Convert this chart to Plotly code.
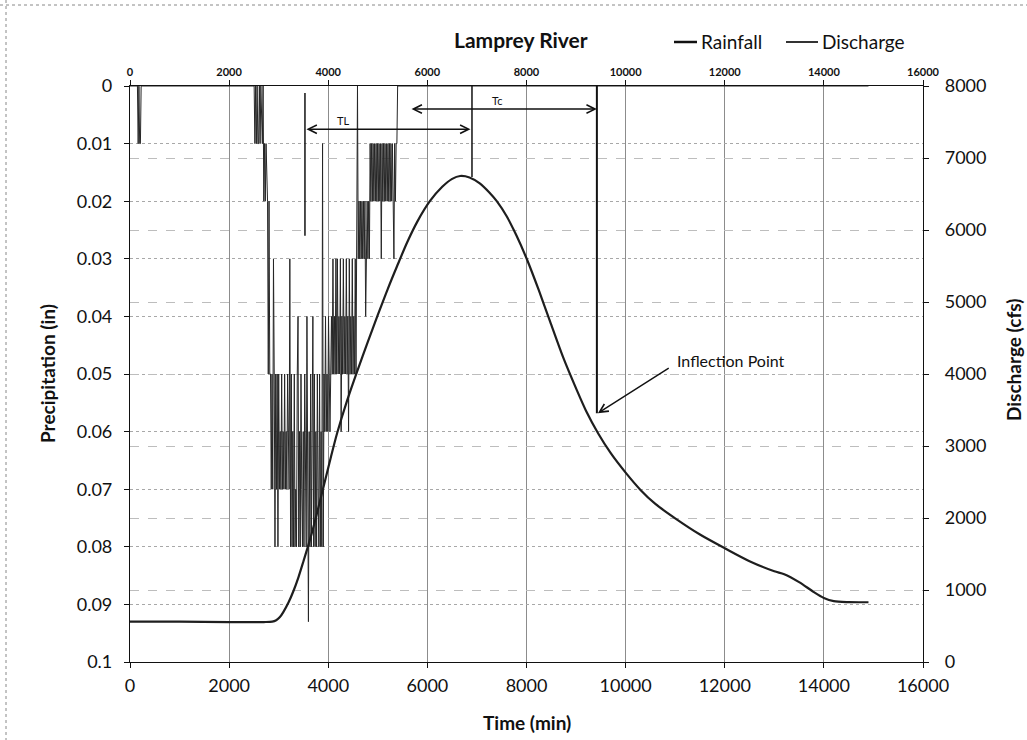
import plotly.graph_objects as go

# ---------------- data ----------------
# Discharge hydrograph (time in min, discharge in cfs)
discharge_time = [0, 1000, 2000, 2700, 2870, 2950, 3020, 3090, 3200, 3300, 3400, 3500, 3640, 3770,
                  3900, 4040, 4180, 4380, 4580, 4800, 5000, 5200, 5390, 5600, 5800, 6050,
                  6300, 6500, 6660, 6850, 7050, 7250, 7400, 7600, 7800, 8010, 8250, 8475,
                  8740, 9000, 9200, 9450, 9700, 10000, 10300, 10600, 11000, 11500, 12000, 12500,
                  13000, 13200, 13500, 13800, 14000, 14200, 14500, 14900]
discharge_cfs = [560, 560, 555, 555, 560, 580, 620, 690, 830, 990, 1180, 1400, 1720, 2060,
                 2420, 2810, 3180, 3630, 4030, 4450, 4820, 5180, 5500, 5840, 6120, 6400,
                 6600, 6710, 6750, 6730, 6650, 6520, 6400, 6190, 5920, 5590, 5160, 4730,
                 4230, 3800, 3490, 3170, 2900, 2630, 2390, 2195, 1995, 1770, 1580, 1400,
                 1260, 1220, 1110, 970, 890, 845, 832, 830]

# Rainfall (inches) - isolated early readings
rain_pre_time = [0, 150, 165, 180, 195, 210, 225, 2490]
rain_pre_val = [0, 0, 0.01, 0, 0.01, 0.01, 0, 0]
# main storm: readings every 15 min starting at 2505 min
RAIN_T0 = 2505
RAIN_DT = 15
rain_storm_val = [
    0, .01, 0, .01, 0, .01, .01, 0, .01, 0, .01, .01, 0,
    .02, .01, .02, .01, .02, .02,
    .05, .02, .05, .05, .07, .05, .07,
    .03, .05, .08, .05, .07, .05, .08, .05, .07,
    .06, .07, .05, .07, .06, .07, .05, .07, .06, .07, .05, .06, .07,
    .03, .08, .05, .08, .06, .08, .05, .08, .07, .08, .05,
    .04, .08, .06, .08, .05, .07, .08, .06, .08, .05, .07, .08, .04, .08,
    .093, .06, .08, .05, .08, .06, .04, .08, .05, .08, .06, .08, .05, .07, .08, .05, .08, .06, .08,
    .01, .08, .05, .06, .04, .06, .05, .06, .04, .05, .06, .05, .04, .05, .03, .05, .04, .05, .03,
    .05, .03, .05, .04, .05, .03, .06, .04, .05, .03, .05, .04, .05, .03, .05, .04, .06, .03, .05,
    .04, .05, .03, .05, .04, .05, .03, .05,
    .02, 0, .03, .02, .03, .02, .03, .02, .03, .02, .03, .02, .04, .03, .02, .03, .02, .03,
    .01, .02, .01, .02, .01, .02, .01, .02, .01, .02, .01, .02, .01, .02, .01, .03, .01, .02,
    .01, .02, .01, .02, .01, .02, .01, .02, .01, .02, .01, .02, .01, .02, .03, .01, .02,
    .01, .01, 0, 0,
]
rain_post_time = [5430, 14900]
rain_post_val = [0, 0]

x_ticks = [0, 2000, 4000, 6000, 8000, 10000, 12000, 14000, 16000]
precip_ticks = [0, 0.01, 0.02, 0.03, 0.04, 0.05, 0.06, 0.07, 0.08, 0.09, 0.1]
precip_labels = ["0", "0.01", "0.02", "0.03", "0.04", "0.05", "0.06", "0.07", "0.08", "0.09", "0.1"]
cfs_ticks = [0, 1000, 2000, 3000, 4000, 5000, 6000, 7000, 8000]

# annotation markers (time, precip-axis value)
TL_start, TL_end, TL_level = 3530, 6870, 0.0075
TC_start, TC_end, TC_level = 5650, 9420, 0.0040
inflection_t, inflection_p = 9420, 0.0568

rain_time = rain_pre_time + [RAIN_T0 + i * RAIN_DT for i in range(len(rain_storm_val))] + rain_post_time
rain_val = rain_pre_val + rain_storm_val + rain_post_val

# ---------------- geometry ----------------
W, H = 1027, 740
L, R, T, B = 130, 104, 86, 78
PW, PH = W - L - R, H - T - B


def px(x):
    return (x - L) / PW


def py(y):
    return (H - B - y) / PH


FONT = "Lato"
BLACK = "#111111"

fig = go.Figure()

# rainfall hyetograph (hanging from the top of the reversed precipitation axis)
fig.add_trace(go.Scatter(x=rain_time, y=rain_val, xaxis="x", yaxis="y", mode="lines",
                         line=dict(color="#262626", width=1.0), name="Rainfall", showlegend=False,
                         hoverinfo="skip"))
# discharge hydrograph on the right axis
fig.add_trace(go.Scatter(x=discharge_time, y=discharge_cfs, xaxis="x", yaxis="y2", mode="lines",
                         line=dict(color="#1e1e1e", width=2.2, shape="spline", smoothing=0.8),
                         name="Discharge", showlegend=False))
# invisible carrier for the top time axis
fig.add_trace(go.Scatter(x=[0, 16000], y=[0, 0], xaxis="x2", yaxis="y", mode="markers",
                         marker=dict(opacity=0), showlegend=False, hoverinfo="skip"))

axis_common = dict(showline=True, linecolor=BLACK, linewidth=1.2, ticks="outside", ticklen=5,
                   tickcolor=BLACK, zeroline=False)

fig.update_layout(
    width=W, height=H,
    margin=dict(l=L, r=R, t=T, b=B),
    paper_bgcolor="white", plot_bgcolor="white",
    font=dict(family=FONT, color=BLACK),
    xaxis=dict(range=[0, 16000], tickvals=x_ticks, tickformat="d",
               tickfont=dict(size=18, family=FONT), showgrid=True, gridcolor="#8c8c8c",
               gridwidth=1, anchor="y", ticklabelstandoff=2, **axis_common),
    xaxis2=dict(range=[0, 16000], tickvals=x_ticks, tickformat="d", overlaying="x", side="top",
                anchor="y", tickfont=dict(size=11, family=FONT, weight="bold"), showgrid=False,
                **axis_common),
    yaxis=dict(range=[0.1, 0], tickvals=precip_ticks, ticktext=precip_labels,
               tickfont=dict(size=18, family=FONT), showgrid=True, gridcolor="#a8a8a8",
               griddash="dot", gridwidth=1, ticklabelstandoff=8, **axis_common),
    yaxis2=dict(range=[0, 8000], tickvals=cfs_ticks, tickformat="d", overlaying="y", side="right",
                anchor="x", tickfont=dict(size=18, family=FONT), showgrid=True, gridcolor="#bdbdbd",
                griddash="dash", gridwidth=1, ticklabelstandoff=12, **axis_common),
    showlegend=False,
)

shapes = []
# marker vertical lines
shapes.append(dict(type="line", xref="x", yref="y", x0=TL_start, x1=TL_start, y0=0.0012, y1=0.026,
                   line=dict(color=BLACK, width=1.5)))
shapes.append(dict(type="line", xref="x", yref="y", x0=TL_end + 30, x1=TL_end + 30, y0=0, y1=0.0158,
                   line=dict(color=BLACK, width=1.5)))
shapes.append(dict(type="line", xref="x", yref="y", x0=inflection_t, x1=inflection_t, y0=0,
                   y1=inflection_p, line=dict(color=BLACK, width=2)))
# manual legend lines
shapes.append(dict(type="line", xref="paper", yref="paper", x0=px(674), x1=px(697), y0=py(42), y1=py(42),
                   line=dict(color=BLACK, width=2.5)))
shapes.append(dict(type="line", xref="paper", yref="paper", x0=px(786), x1=px(818), y0=py(42), y1=py(42),
                   line=dict(color="#333333", width=2)))
# scanned page border
shapes.append(dict(type="line", xref="paper", yref="paper", x0=px(0), x1=px(W), y0=py(5), y1=py(5),
                   line=dict(color="#888888", width=1, dash="dot")))
shapes.append(dict(type="line", xref="paper", yref="paper", x0=px(6), x1=px(6), y0=py(0), y1=py(H),
                   line=dict(color="#888888", width=1, dash="dot")))

annotations = [
    dict(text="<b>Lamprey River</b>", xref="paper", yref="paper", x=px(521), y=py(40),
         showarrow=False, font=dict(size=21, family=FONT), xanchor="center", yanchor="middle"),
    dict(text="Rainfall", xref="paper", yref="paper", x=px(699), y=py(41), showarrow=False,
         font=dict(size=19, family=FONT), xanchor="left", yanchor="middle"),
    dict(text="Discharge", xref="paper", yref="paper", x=px(820), y=py(41), showarrow=False,
         font=dict(size=19, family=FONT), xanchor="left", yanchor="middle"),
    dict(text="<b>Precipitation (in)</b>", xref="paper", yref="paper", x=px(47), y=py(374),
         showarrow=False, textangle=-90, font=dict(size=19, family=FONT), xanchor="center", yanchor="middle"),
    dict(text="<b>Discharge (cfs)</b>", xref="paper", yref="paper", x=px(1013), y=py(360),
         showarrow=False, textangle=-90, font=dict(size=19, family=FONT), xanchor="center", yanchor="middle"),
    dict(text="<b>Time (min)</b>", xref="paper", yref="paper", x=0.5, y=py(722),
         showarrow=False, font=dict(size=19, family=FONT), xanchor="center", yanchor="middle"),
    # TL / Tc double arrows
    dict(text="", xref="x", yref="y", x=TL_end, y=TL_level, ax=TL_start, ay=TL_level, axref="x", ayref="y",
         showarrow=True, arrowhead=5, startarrowhead=5, arrowside="end+start", arrowwidth=1.4,
         arrowsize=1.2, startarrowsize=1.2, arrowcolor=BLACK),
    dict(text="", xref="x", yref="y", x=TC_end, y=TC_level, ax=TC_start, ay=TC_level, axref="x", ayref="y",
         showarrow=True, arrowhead=5, startarrowhead=5, arrowside="end+start", arrowwidth=1.4,
         arrowsize=1.2, startarrowsize=1.2, arrowcolor=BLACK),
    dict(text="TL", xref="x", yref="y", x=4300, y=TL_level, showarrow=False, yanchor="bottom",
         font=dict(size=11, family=FONT)),
    dict(text="Tc", xref="x", yref="y", x=7400, y=TC_level, showarrow=False, yanchor="bottom",
         font=dict(size=11, family=FONT)),
    # inflection point
    dict(text="", xref="x", yref="y", x=inflection_t + 20, y=inflection_p, ax=10900, ay=0.0488,
         axref="x", ayref="y", showarrow=True, arrowhead=5, arrowwidth=1.4, arrowsize=1.2, arrowcolor=BLACK),
    dict(text="Inflection Point", xref="x", yref="y", x=11000, y=0.0476, showarrow=False,
         xanchor="left", yanchor="middle", font=dict(size=16, family=FONT)),
]

fig.update_layout(shapes=shapes, annotations=annotations)

fig.write_html("out.html")
